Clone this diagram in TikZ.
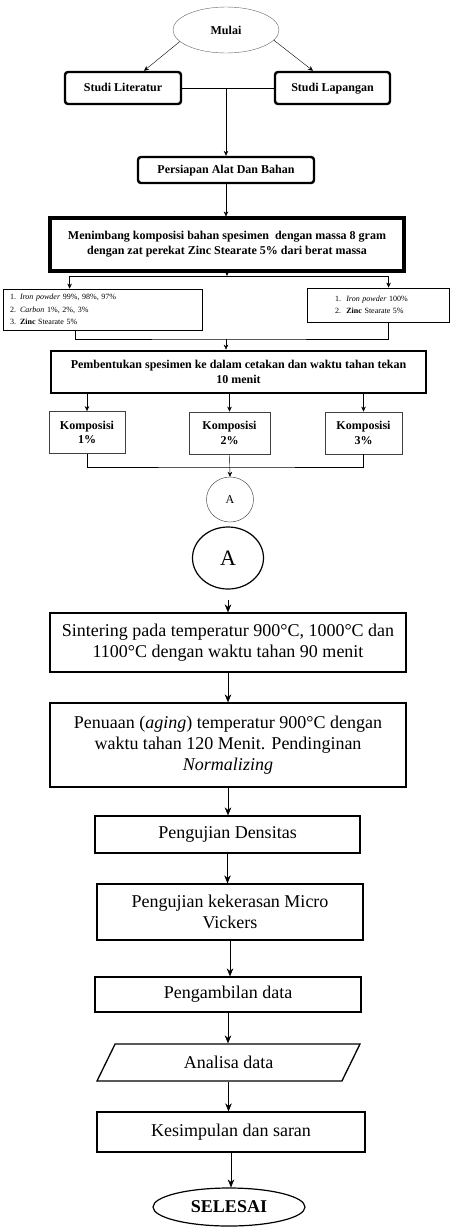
\documentclass[tikz,border=0pt]{standalone}
\usepackage{fontspec}
\setmainfont{Liberation Serif}
\usepackage{tikz}
\usetikzlibrary{arrows.meta,shapes.geometric}
\tikzset{
->, % makes the connectors directed
>={Stealth[length=5pt,width=4.5pt]}, % small filled heads
line width=0.8pt, % thin connectors
bigtip/.style={-{Stealth[length=8pt,width=6.5pt]}}, % heads in the lower half
terminal/.style={ellipse, draw=gray!80!black, inner sep=0pt}, % start / end
studibox/.style={rectangle, rounded corners=3pt, draw, line width=2.4pt, inner sep=0pt, text height=8.5pt, text depth=2.5pt, font=\bfseries\fontsize{12}{14}\selectfont},
heavybox/.style={rectangle, draw, line width=3.2pt, align=center, inner sep=0pt, font=\bfseries\fontsize{12}{15}\selectfont},
listbox/.style={rectangle, draw, line width=0.8pt, align=left, inner sep=0pt, font=\fontsize{8}{12.3}\selectfont},
kompbox/.style={rectangle, draw=black!75, line width=0.8pt, align=center, inner sep=0pt, minimum height=42pt, font=\bfseries\fontsize{12}{14.5}\selectfont},
process/.style={rectangle, draw, line width=1.3pt, align=center, inner sep=0pt, font=\fontsize{18}{21}\selectfont},
}

\begin{document}
\begin{tikzpicture}[x=1pt,y=-1pt]
		\useasboundingbox (0,0) rectangle (450,1227);
		% first page of the chart
		\node[terminal, minimum width=106pt, minimum height=46pt, font=\bfseries\fontsize{12}{14}\selectfont] (mulai) at (226,30) {Mulai};
		\node[studibox, minimum width=116pt, minimum height=32pt] (lit) at (123,88) {Studi Literatur};
		\node[studibox, minimum width=115pt, minimum height=32pt] (lap) at (332.5,88) {Studi Lapangan};
		\node[studibox, minimum width=176pt, minimum height=26pt] (alat) at (226,170) {Persiapan Alat Dan Bahan};
		\node[heavybox, minimum width=354pt, minimum height=53pt] (timbang) at (227,244.5) {Menimbang komposisi bahan spesimen \ dengan massa 8 gram\\dengan zat perekat Zinc Stearate 5\% dari berat massa};
		\node[listbox, text width=185pt, minimum width=199pt, minimum height=41pt] (list1) at (102.5,309.5) {1. \textit{Iron powder} 99\%, 98\%, 97\%\\2. \textit{Carbon} 1\%, 2\%, 3\%\\3. \textbf{Zinc} Stearate 5\%};
		\node[listbox, text width=86pt, minimum width=142pt, minimum height=34pt] (list2) at (378,305) {1.\ \ \textit{Iron powder} 100\%\\2.\ \ \textbf{Zinc} Stearate 5\%};
		\node[heavybox, line width=2.8pt, minimum width=375pt, minimum height=42pt] (bentuk) at (238.5,372) {Pembentukan spesimen ke dalam cetakan dan waktu tahan tekan\\10 menit};
		\node[kompbox, minimum width=76pt] (k1) at (87,432.5) {Komposisi\\1\%};
		\node[kompbox, minimum width=81pt] (k2) at (229.5,433) {Komposisi\\2\%};
		\node[kompbox, minimum width=77pt] (k3) at (363.5,433) {Komposisi\\3\%};
		\node[terminal, draw=black!80, minimum width=47pt, minimum height=45pt, font=\fontsize{12}{14}\selectfont] (conA) at (230,499.5) {A};
		% second page of the chart
		\node[terminal, draw=black, line width=1.2pt, minimum width=71pt, minimum height=62pt, font=\fontsize{22}{24}\selectfont] (conB) at (228,558) {A};
		\node[process, minimum width=356pt, minimum height=59pt] (sinter) at (228,642.5) {Sintering pada temperatur 900°C, 1000°C dan\\1100°C dengan waktu tahan 90 menit};
		\node[process, minimum width=356pt, minimum height=84pt] (tua) at (228,745) {Penuaan (\textit{aging}) temperatur 900°C dengan\\waktu tahan 120 Menit. Pendinginan\\\textit{Normalizing}};
		\node[process, minimum width=265pt, minimum height=37pt] (dens) at (227.5,834.5) {Pengujian Densitas};
		\node[process, minimum width=266pt, minimum height=56pt] (micro) at (230,912) {Pengujian kekerasan Micro\\Vickers};
		\node[process, minimum width=266pt, minimum height=35pt] (ambil) at (228,994.5) {Pengambilan data};
		\node[process, trapezium, trapezium left angle=35, trapezium right angle=145, trapezium stretches body, minimum width=263pt, minimum height=37pt] (analisa) at (228.5,1062.5) {Analisa data};
		\node[process, minimum width=268pt, minimum height=40pt] (simpul) at (231,1132) {Kesimpulan dan saran};
		\node[terminal, draw=black, line width=1.2pt, minimum width=152pt, minimum height=38pt, font=\bfseries\fontsize{18}{20}\selectfont] (selesai) at (229,1207) {SELESAI};

		\coordinate (split1) at (226,276);
		\coordinate (join1) at (226,339);
		\coordinate (join2) at (228,467);
		\coordinate (in1) at ([xshift=67pt]list1.north west);
		\coordinate (in2) at ([xshift=82pt]list2.north west);
		\coordinate (out1) at ([xshift=73pt]list1.south west);
		\coordinate (out2) at ([xshift=82pt]list2.south west);

		\draw (mulai.194) -- ([xshift=21pt]lit.north);
		\draw (mulai.348) -- ([xshift=-19.5pt]lap.north);
		\draw[-] (lit.east) -- (lap.west);
		\draw (lit.east -| alat.north) -- (alat.north);
		\draw (alat.south) -- (alat.south |- timbang.north);
		\draw (timbang.south) -- (timbang.south |- split1);
		\draw[-] (in1 |- split1) -- (in2 |- split1);
		\draw (in1 |- split1) -- (in1);
		\draw (in2 |- split1) -- (in2);
		\draw[-] (out1) |- (join1) -| (out2);
		\draw (join1) -- (join1 |- bentuk.north);
		\foreach \k in {k1,k2,k3}
			\draw (\k.north |- bentuk.south) -- (\k.north);
		\draw[-] (k1.south) |- (join2) -| (k3.south);
		\draw (k2.south) -- (conA.north);
		\draw[bigtip, shorten <=10pt] (conB.south) -- (sinter.north);
		\foreach \a/\b in {sinter/tua, tua/dens, dens/micro, micro/ambil, ambil/analisa, analisa/simpul, simpul/selesai}
			\draw[bigtip] (\a.south) -- (\a.south |- \b.north);
	\end{tikzpicture}
\end{document}
